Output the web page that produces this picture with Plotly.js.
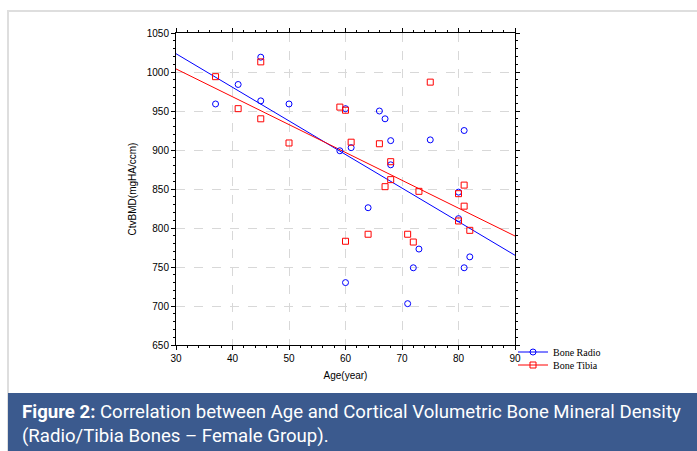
<!DOCTYPE html>
<html><head><meta charset="utf-8">
<script src="https://cdn.plot.ly/plotly-3.0.1.min.js"></script>
<style>html,body{margin:0;padding:0;background:#fff}#chart{width:697px;height:451px}</style>
</head><body><div id="chart"></div>
<script>
// Bone Radio (blue circles)
const radioAge = [37, 41, 45, 45, 50, 59, 60, 61, 60, 64, 66, 67, 68, 68, 71, 72, 73, 75, 80, 80, 81, 81, 82];
const radioBMD = [959, 984, 1019, 963, 959, 899, 953, 903, 730, 826, 950, 940, 912, 881, 703, 749, 773, 913, 846, 812, 749, 925, 763];
// Bone Tibia (red squares)
const tibiaAge = [37, 41, 45, 45, 50, 59, 60, 61, 64, 60, 66, 67, 68, 68, 71, 72, 73, 75, 80, 80, 81, 81, 82];
const tibiaBMD = [994, 953, 1013, 940, 909, 955, 951, 910, 792, 783, 908, 853, 885, 862, 792, 782, 847, 987, 844, 809, 855, 828, 797];
const seriesNames = ['Bone Radio', 'Bone Tibia'];
const xRange = [30, 90];
const yRange = [650, 1050];
const captionLine1 = '<b>Figure 2:</b> Correlation between Age and Cortical Volumetric Bone Mineral Density';
const captionLine2 = '(Radio/Tibia Bones – Female Group).';

function fit(xs, ys) {
  const n = xs.length;
  const mx = xs.reduce((a, b) => a + b, 0) / n;
  const my = ys.reduce((a, b) => a + b, 0) / n;
  let sxy = 0, sxx = 0;
  for (let i = 0; i < n; i++) { sxy += (xs[i] - mx) * (ys[i] - my); sxx += (xs[i] - mx) ** 2; }
  const b = sxy / sxx, a = my - b * mx;
  return xRange.map(x => a + b * x);
}
const gapped = arr => arr.flatMap(v => [v, null]);

const W = 697, H = 451, L = 176, R = 515, T = 33, B = 345;
const px = x => (x - L) / (R - L);
const py = y => (B - y) / (B - T);

const traces = [
  {x: xRange, y: fit(radioAge, radioBMD), mode: 'lines', line: {color: '#0000ff', width: 1}, showlegend: false, hoverinfo: 'skip'},
  {x: xRange, y: fit(tibiaAge, tibiaBMD), mode: 'lines', line: {color: '#ff0000', width: 1}, showlegend: false, hoverinfo: 'skip'},
  {x: gapped(radioAge), y: gapped(radioBMD), name: seriesNames[0], mode: 'lines+markers', connectgaps: false,
   line: {color: '#0000ff', width: 1}, marker: {symbol: 'circle-open', size: 6, color: '#0000ff', line: {width: 1}}, legend: 'legend'},
  {x: gapped(tibiaAge), y: gapped(tibiaBMD), name: seriesNames[1], mode: 'lines+markers', connectgaps: false,
   line: {color: '#ff0000', width: 1}, marker: {symbol: 'square-open', size: 6, color: '#ff0000', line: {width: 1}}, legend: 'legend2'}
];

const tickFont = {family: 'Liberation Sans, Arial, sans-serif', size: 10, color: '#000'};
const axisCommon = {
  showline: true, linecolor: '#000', linewidth: 1, mirror: 'ticks', ticks: 'outside', ticklen: 4, tickcolor: '#000',
  showgrid: true, gridcolor: '#d8d8d8', griddash: 'dash', gridwidth: 1, zeroline: false, tickfont: tickFont
};
const legendCommon = {xanchor: 'left', yanchor: 'middle', bgcolor: 'rgba(0,0,0,0)', borderwidth: 0,
  font: {family: 'Liberation Serif, Times New Roman, serif', size: 10, color: '#000'}, itemwidth: 30, tracegroupgap: 0};

const layout = {
  width: W, height: H, paper_bgcolor: '#fff', plot_bgcolor: '#fff',
  margin: {l: L, r: W - R, t: T, b: H - B, pad: 0},
  showlegend: true,
  xaxis: Object.assign({}, axisCommon, {range: xRange, dtick: 10, tick0: 30,
    minor: {dtick: 2, ticks: 'outside', ticklen: 2, tickcolor: '#000', showgrid: false},
    title: {text: 'Age(year)', font: {family: 'Liberation Sans, Arial, sans-serif', size: 10, color: '#000'}, standoff: 8}}),
  yaxis: Object.assign({}, axisCommon, {range: yRange, dtick: 50, tick0: 650,
    minor: {dtick: 10, ticks: 'outside', ticklen: 2, tickcolor: '#000', showgrid: false},
    title: {text: 'CtvBMD(mgHA/ccm)', font: {family: 'Liberation Sans, Arial, sans-serif', size: 10, color: '#000'}, standoff: 8}}),
  legend: Object.assign({}, legendCommon, {x: px(513), y: py(352)}),
  legend2: Object.assign({}, legendCommon, {x: px(513), y: py(365)}),
  shapes: [
    {type: 'rect', xref: 'paper', yref: 'paper', x0: px(8), x1: px(700), y0: py(452), y1: py(11),
     line: {color: '#dedede', width: 2}, fillcolor: 'rgba(0,0,0,0)', layer: 'below'},
    {type: 'rect', xref: 'paper', yref: 'paper', x0: px(8), x1: px(700), y0: py(452), y1: py(393),
     line: {width: 0}, fillcolor: '#3b5a8e', layer: 'above'}
  ],
  annotations: [
    {xref: 'paper', yref: 'paper', x: px(20), y: py(412), xanchor: 'left', yanchor: 'middle', showarrow: false, align: 'left',
     text: captionLine1, font: {family: 'Roboto, sans-serif', size: 18.6, color: '#ffffff'}},
    {xref: 'paper', yref: 'paper', x: px(20), y: py(435.5), xanchor: 'left', yanchor: 'middle', showarrow: false, align: 'left',
     text: captionLine2, font: {family: 'Roboto, sans-serif', size: 18.6, color: '#ffffff'}}
  ]
};

Plotly.newPlot('chart', traces, layout, {displayModeBar: false, staticPlot: true});
</script>
</body></html>
